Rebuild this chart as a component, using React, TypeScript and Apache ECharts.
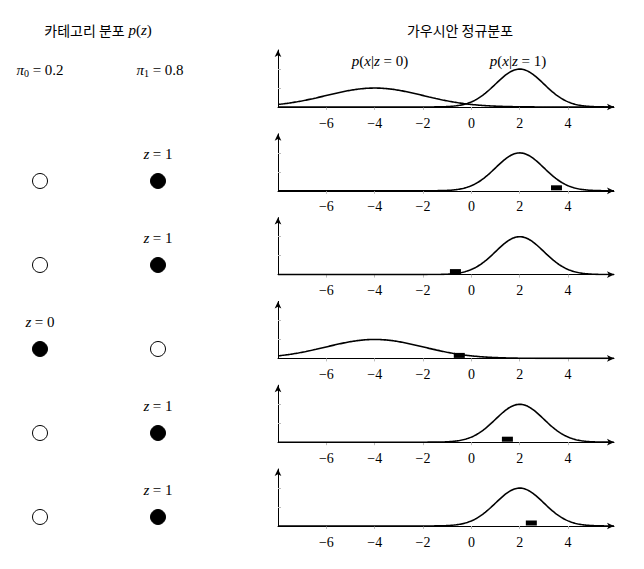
import React, { useEffect, useRef } from 'react';
import * as echarts from 'echarts';

// mixture parameters
const means = [-4, 2];
const sds = [2, 1];
const priors = [0.2, 0.8];
// sampled component and value for each draw (rows 2..6)
const zSamples = [1, 1, 0, 1, 1];
const xSamples = [3.52, -0.66, -0.5, 1.49, 2.48];
const xTicks = [-6, -4, -2, 0, 2, 4];

const X_MIN = -8;
const X_MAX = 5.9;
const SERIF = "'Liberation Serif', 'DejaVu Serif', serif";
const KR = "'Noto Sans CJK KR', sans-serif";

const pdf = (x: number, m: number, s: number) =>
  Math.exp(-((x - m) ** 2) / (2 * s * s)) / (s * Math.sqrt(2 * Math.PI));

const curve = (k: number) => {
  const pts: number[][] = [];
  for (let i = 0; i <= 300; i++) {
    const x = X_MIN + ((X_MAX - X_MIN) * i) / 300;
    pts.push([x, pdf(x, means[k], sds[k])]);
  }
  return pts;
};

const App: React.FC = () => {
  const ref = useRef<HTMLDivElement>(null);

  useEffect(() => {
    if (!ref.current) return;
    const chart = echarts.init(ref.current, null, { renderer: 'svg' });

    const panels = 6;
    const step = 83.8;
    const grids: any[] = [];
    const xAxes: any[] = [];
    const yAxes: any[] = [];
    const series: any[] = [];

    for (let p = 0; p < panels; p++) {
      grids.push({ left: 278, right: 30, top: 50 + p * step, height: 57 });
      xAxes.push({
        gridIndex: p, type: 'value', min: X_MIN, max: X_MAX, interval: 2,
        axisLine: { onZero: false, lineStyle: { color: '#000', width: 1 }, symbol: ['none', 'arrow'], symbolSize: [5, 7] },
        axisTick: { customValues: xTicks, length: 3, lineStyle: { color: '#bbb' } },
        axisLabel: {
          customValues: xTicks, color: '#000', fontFamily: SERIF, fontSize: 14, margin: 9,
          formatter: (v: number) => (v < 0 ? '\u2212' + Math.abs(v) : String(v)),
        },
        splitLine: { show: false },
      });
      yAxes.push({
        gridIndex: p, type: 'value', min: 0, max: 0.6,
        axisLine: { show: true, onZero: false, lineStyle: { color: '#000', width: 1 }, symbol: ['none', 'arrow'], symbolSize: [5, 7] },
        axisTick: { show: true, customValues: [0.2, 0.4], length: 3, inside: true, lineStyle: { color: '#bbb' } },
        axisLabel: { show: false },
        splitLine: { show: false },
      });
      const comps = p === 0 ? [0, 1] : [zSamples[p - 1]];
      comps.forEach((k) => {
        series.push({
          type: 'line', xAxisIndex: p, yAxisIndex: p, data: curve(k), showSymbol: false,
          lineStyle: { color: '#000', width: 1.6 }, silent: true,
        });
      });
      if (p > 0) {
        series.push({
          type: 'scatter', xAxisIndex: p, yAxisIndex: p, data: [[xSamples[p - 1], 0]],
          symbol: 'rect', symbolSize: [11, 5], symbolOffset: [0, -3],
          itemStyle: { color: '#000', opacity: 1 }, silent: true, z: 5,
        });
      }
    }

    // categorical draws grid (left side)
    const gi = panels;
    grids.push({ left: 40, width: 118, top: 181, height: 336 });
    xAxes.push({ gridIndex: gi, type: 'value', min: 0, max: 1, show: false });
    yAxes.push({ gridIndex: gi, type: 'value', min: 0, max: 4, inverse: true, show: false });
    const circles: any[] = [];
    zSamples.forEach((z, r) => {
      [0, 1].forEach((k) => {
        const filled = z === k;
        circles.push({
          value: [k, r],
          itemStyle: { color: filled ? '#000' : '#fff', borderColor: '#000', borderWidth: 1, opacity: 1 },
          label: filled
            ? {
                show: true, position: 'top', distance: 12, formatter: '{i|z} {n|= ' + z + '}',
                rich: {
                  i: { fontStyle: 'italic', fontFamily: SERIF, fontSize: 15, color: '#000' },
                  n: { fontFamily: SERIF, fontSize: 15, color: '#000' },
                },
              }
            : { show: false },
        });
      });
    });
    series.push({
      type: 'scatter', xAxisIndex: gi, yAxisIndex: gi, data: circles,
      symbol: 'circle', symbolSize: 15, silent: true,
    });

    const rich = {
      i: { fontStyle: 'italic', fontFamily: SERIF, fontSize: 15, fill: '#000' },
      n: { fontFamily: SERIF, fontSize: 15, fill: '#000' },
      s: { fontFamily: SERIF, fontSize: 10, fill: '#000', padding: [6, 0, 0, 0] },
      k: { fontFamily: KR, fontSize: 14, fill: '#000' },
    };
    const txt = (x: number, y: number, text: string) => ({
      type: 'text', x, y,
      style: { text, fill: '#000', fontFamily: SERIF, fontSize: 15, align: 'center', verticalAlign: 'middle', rich },
    });

    chart.setOption({
      animation: false,
      grid: grids,
      xAxis: xAxes,
      yAxis: yAxes,
      series,
      graphic: [
        txt(98, 30, '{k|카테고리 분포} {i|p}{n|(}{i|z}{n|)}'),
        txt(460, 30, '{k|가우시안 정규분포}'),
        txt(40, 70, '{i|π}{s|0}{n| = ' + priors[0].toFixed(1) + '}'),
        txt(160, 70, '{i|π}{s|1}{n| = ' + priors[1].toFixed(1) + '}'),
        txt(380, 61, '{i|p}{n|(}{i|x}{n||}{i|z}{n| = 0)}'),
        txt(518, 61, '{i|p}{n|(}{i|x}{n||}{i|z}{n| = 1)}'),
      ],
    });
    return () => chart.dispose();
  }, []);

  return <div ref={ref} style={{ width: 644, height: 569, margin: -8 }} />;
};

export default App;
